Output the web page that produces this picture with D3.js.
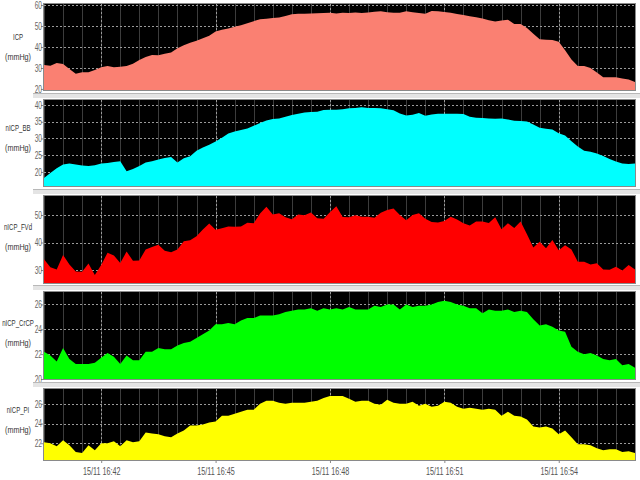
<!DOCTYPE html>
<html><head><meta charset="utf-8">
<script src="https://cdn.jsdelivr.net/npm/d3@7/dist/d3.min.js"></script>
<style>
body{margin:0;background:#fff;}
svg text{font-family:'Liberation Sans',Arial,sans-serif;}
</style>
</head><body>
<svg id="chart" width="640" height="480"></svg>
<script>
// ---- data ----
const seriesNames = ["ICP", "nICP_BB", "nICP_FVd", "nICP_CrCP", "nICP_PI"];
const unitLabel = "(mmHg)";
const startTime = new Date(2023, 10, 15, 16, 40, 30);
const sampleStepSeconds = 10;

const icp = [31.4,31.1,32.4,31.9,29.5,27.2,28.0,28.0,29.0,30.3,
30.9,30.4,30.6,31.0,32.0,33.8,35.2,36.2,36.1,36.8,
37.4,39.4,40.8,42.0,43.0,44.2,45.4,47.4,48.2,48.8,
49.6,50.4,51.3,52.3,53.2,53.5,53.8,54.1,54.8,55.6,
55.8,55.9,56.0,56.1,56.2,56.3,56.0,56.3,56.2,56.4,
56.2,56.5,56.8,57.0,56.6,56.3,56.3,57.0,56.6,56.2,
55.8,57.2,57.0,56.7,56.3,55.7,55.2,54.7,54.2,53.6,
52.8,52.2,52.6,53.0,51.0,51.0,49.0,46.3,43.7,43.5,
43.3,42.5,38.5,34.0,31.0,31.0,30.0,27.8,25.6,25.6,
25.6,25.0,24.5,23.3];

const nicpBB = [18.2,19.7,21.1,22.2,22.5,22.2,21.9,21.8,22.0,22.5,
22.7,23.0,23.2,20.2,20.9,21.8,22.8,23.2,23.7,24.2,
24.5,22.8,24.1,24.7,26.3,27.3,28.1,29.1,30.2,31.5,
32.1,32.5,33.0,33.8,34.6,35.4,35.8,36.0,36.5,37.0,
37.4,37.8,37.9,38.0,38.5,38.6,38.6,38.7,39.0,39.1,
39.3,39.1,39.1,39.0,38.7,38.4,37.5,36.9,37.1,37.6,
36.8,37.2,37.4,37.4,37.4,37.4,37.3,36.5,36.2,36.1,
36.0,35.9,36.0,35.7,35.3,35.2,35.1,34.2,33.2,32.9,
32.7,31.6,30.9,29.2,27.6,26.3,26.0,25.5,24.8,23.9,
23.1,22.5,22.4,22.5];

const nicpFVd = [33.9,31.0,30.2,35.5,32.0,29.5,29.4,32.4,28.2,31.8,
36.3,35.3,32.6,36.7,33.4,33.5,37.5,38.4,39.2,37.0,
36.5,37.5,40.5,40.8,42.3,44.7,46.9,44.6,45.2,45.8,
45.7,45.8,47.2,47.0,50.5,53.0,50.2,50.6,49.2,48.5,
50.2,49.9,50.9,48.8,48.6,51.0,53.2,49.3,49.2,49.9,
49.4,49.4,49.0,50.8,51.8,52.4,50.0,48.1,50.0,50.6,
48.6,47.5,47.3,47.8,49.4,48.4,47.0,46.2,47.6,47.6,
47.1,49.2,44.8,47.0,45.3,47.6,43.0,38.2,40.3,37.9,
40.9,37.2,39.0,37.5,33.0,33.0,32.0,32.5,30.2,30.1,
31.2,29.8,31.8,30.2];

const nicpCrCP = [22.2,21.9,21.4,22.5,21.6,21.2,21.2,21.2,21.3,21.7,
22.1,21.8,21.2,21.9,21.5,21.5,22.2,22.2,22.5,22.4,
22.4,22.7,22.9,23.0,23.3,23.6,23.9,24.4,24.4,24.5,
24.4,24.7,24.9,24.9,25.1,25.1,25.1,25.2,25.4,25.5,
25.6,25.6,25.7,25.5,25.7,25.6,25.7,25.6,25.8,25.6,
25.6,25.6,25.9,25.8,26.0,26.0,25.6,26.0,25.8,25.9,
25.9,26.0,26.2,26.3,26.2,26.0,25.9,25.7,25.7,25.3,
25.6,25.5,25.5,25.6,25.4,25.5,25.4,24.8,24.3,24.4,
24.2,23.9,23.8,22.6,22.2,22.0,22.1,21.9,21.6,21.5,
21.6,21.1,21.2,20.9];

const nicpPI = [22.1,22.0,21.7,22.3,21.8,21.1,21.0,21.8,21.3,22.0,
22.0,22.2,21.7,22.3,22.1,22.2,23.1,23.0,22.9,22.7,
22.6,23.0,23.3,23.8,23.8,23.9,24.1,24.2,24.8,24.8,
25.0,25.2,25.4,25.4,26.0,26.3,26.3,26.1,26.0,26.1,
26.1,26.1,26.2,26.3,26.6,26.8,26.8,26.8,26.5,26.2,
26.3,26.3,26.0,25.9,26.4,26.1,26.0,26.0,26.2,25.8,
26.0,25.7,25.8,26.2,26.1,25.7,25.5,25.6,25.5,25.4,
25.5,25.4,24.8,25.2,24.8,24.7,24.4,23.7,23.6,23.7,
23.5,22.9,23.3,22.6,21.9,21.9,21.8,21.5,21.3,21.4,
21.4,21.1,21.2,21.0];

const yTicksICP = [20, 30, 40, 50, 60];
const yTicksBB = [20, 25, 30, 35, 40];
const yTicksFVd = [30, 40, 50];
const yTicksCrCP = [20, 22, 24, 26];
const yTicksPI = [22, 24, 26];
const xTickLabels = ["15/11 16:42", "15/11 16:45", "15/11 16:48", "15/11 16:51", "15/11 16:54"];

// ---- layout ----
const svg = d3.select("#chart");
const plotLeft = 44, plotRight = 635;
const times = icp.map((_, i) => new Date(startTime.getTime() + i * sampleStepSeconds * 1000));
const x = d3.scaleTime().domain([times[0], times[times.length - 1]]).range([plotLeft, plotRight]);

const panels = [
  {name: seriesNames[0], values: icp, ticks: yTicksICP, domain: [19.5, 60.5], color: "#FA8072", top: 4, bottom: 90, labelY: 40},
  {name: seriesNames[1], values: nicpBB, ticks: yTicksBB, domain: [15.8, 41.5], color: "#00FFFF", top: 100, bottom: 186, labelY: 131},
  {name: seriesNames[2], values: nicpFVd, ticks: yTicksFVd, domain: [25.3, 56.9], color: "#FF0000", top: 196, bottom: 283, labelY: 230},
  {name: seriesNames[3], values: nicpCrCP, ticks: yTicksCrCP, domain: [20, 27], color: "#00FF00", top: 292, bottom: 379, labelY: 326},
  {name: seriesNames[4], values: nicpPI, ticks: yTicksPI, domain: [20.3, 27.5], color: "#FFFF00", top: 389, bottom: 460, labelY: 413}
];

const parseTick = d3.timeParse("%d/%m %H:%M");
const majorTimes = xTickLabels.map(s => {
  const t = parseTick(s); t.setFullYear(startTime.getFullYear()); return t;
});
const minorTimes = d3.timeSecond.every(30).range(times[0], times[times.length - 1]);

function narrowText(g, tx, ty, sx, anchor, str, size, fill) {
  return g.append("text").attr("transform", `translate(${tx},${ty}) scale(${sx},1)`)
    .attr("text-anchor", anchor).attr("fill", fill).style("font-size", size).text(str);
}

panels.forEach((p, k) => {
  const g = svg.append("g");
  if (k > 0) {
    g.append("rect").attr("x", 33).attr("y", p.top - 6).attr("width", 607).attr("height", 4).attr("fill", "#e4e4e4");
    g.append("line").attr("x1", 33).attr("x2", 640).attr("y1", p.top - 6.5).attr("y2", p.top - 6.5).attr("stroke", "#b8b8b8");
  }
  const y = d3.scaleLinear().domain(p.domain).range([p.bottom, p.top]);
  const clipId = "clip" + k;
  g.append("clipPath").attr("id", clipId).append("rect")
    .attr("x", plotLeft).attr("y", p.top).attr("width", plotRight - plotLeft).attr("height", p.bottom - p.top);
  g.append("rect").attr("x", plotLeft).attr("y", p.top).attr("width", plotRight - plotLeft).attr("height", p.bottom - p.top).attr("fill", "#000");
  const grid = g.append("g").attr("clip-path", `url(#${clipId})`);
  grid.selectAll("line.minor").data(minorTimes).join("line").attr("class", "minor")
    .attr("x1", d => Math.round(x(d)) + 0.5).attr("x2", d => Math.round(x(d)) + 0.5)
    .attr("y1", p.top).attr("y2", p.bottom).attr("stroke", "#3c3c3c").attr("stroke-width", 1);
  grid.selectAll("line.major").data(majorTimes).join("line").attr("class", "major")
    .attr("x1", d => Math.round(x(d)) + 0.5).attr("x2", d => Math.round(x(d)) + 0.5)
    .attr("y1", p.top).attr("y2", p.bottom).attr("stroke", "#9a9a9a").attr("stroke-dasharray", "2,2");
  grid.selectAll("line.h").data(p.ticks).join("line").attr("class", "h")
    .attr("x1", plotLeft).attr("x2", plotRight)
    .attr("y1", d => Math.round(y(d)) + 0.5).attr("y2", d => Math.round(y(d)) + 0.5)
    .attr("stroke", "#9a9a9a").attr("stroke-dasharray", "2,2");
  const area = d3.area().x((d, i) => x(times[i])).y0(p.bottom).y1(d => y(d));
  g.append("path").datum(p.values).attr("d", area).attr("fill", p.color).attr("clip-path", `url(#${clipId})`);
  g.append("rect").attr("x", plotLeft - 0.5).attr("y", p.top - 0.5).attr("width", plotRight - plotLeft + 1).attr("height", p.bottom - p.top + 1)
    .attr("fill", "none").attr("stroke", "#8a8a8a");
  // y axis (ticks from the scale, labels condensed)
  const ax = g.append("g").attr("transform", `translate(${plotLeft},0)`)
    .call(d3.axisLeft(y).tickValues(p.ticks).tickFormat(d3.format("d")).tickSize(3).tickSizeOuter(0));
  ax.select(".domain").remove();
  ax.selectAll("line").attr("stroke", "#888");
  ax.selectAll("text").attr("x", 0).attr("fill", "#666").style("font-size", "10px")
    .attr("transform", "translate(-2,0) scale(0.66,1)");
  // axis title
  narrowText(g, 18, p.labelY, 0.64, "middle", p.name, "9.5px", "#333");
  narrowText(g, 18, p.labelY + 20, 0.76, "middle", unitLabel, "9.5px", "#333");
  if (k === panels.length - 1) {
    const xa = g.append("g").attr("transform", `translate(0,${p.bottom})`)
      .call(d3.axisBottom(x).tickValues(majorTimes).tickFormat(d3.timeFormat("%d/%m %H:%M")).tickSize(3).tickSizeOuter(0));
    xa.select(".domain").remove();
    xa.selectAll("line").attr("stroke", "#888");
    xa.selectAll("text").attr("y", 0).attr("fill", "#555").style("font-size", "10px")
      .attr("transform", "translate(0,8) scale(0.72,1)");
  }
});
</script>
</body></html>
